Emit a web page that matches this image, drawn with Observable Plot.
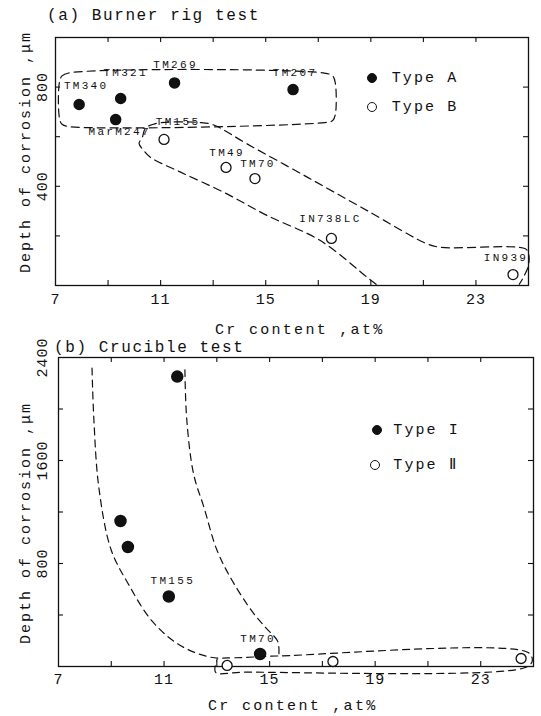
<!DOCTYPE html>
<html><head><meta charset="utf-8">
<script src="https://cdn.jsdelivr.net/npm/d3@7"></script>
<script src="https://cdn.jsdelivr.net/npm/@observablehq/plot@0.6"></script>
<style>
html,body{margin:0;padding:0;background:#fff;}
#root{position:relative;width:541px;height:716px;overflow:hidden;font-family:"Liberation Mono",monospace;color:#111;}
.t{position:absolute;white-space:nowrap;line-height:1;}
#root svg g[aria-label="text"] text{letter-spacing:2.3px;}
#root svg text[aria-label="ul"]{text-decoration:underline;}
#root svg g[aria-label="x-axis tick label"] text{letter-spacing:1px;}
#root svg g[aria-label="y-axis tick label"] text{letter-spacing:1px;}
.dot{position:absolute;width:10px;height:10px;border-radius:50%;box-sizing:border-box;border:1.3px solid #111;}
</style></head><body><div id="root"></div>
<script>
// ---------- data: (a) Burner rig test ----------
const burnerAlloys = ["TM340","TM321","MarM247","TM269","TM207","TM155","TM49","TM70","IN738LC","IN939"];
const burnerCr     = [7.90, 9.48, 9.29, 11.53, 16.04, 11.13, 13.49, 14.59, 17.50, 24.41];
const burnerDepth  = [730, 754, 669, 817, 790, 589, 476, 431, 190, 44];
const burnerType   = ["A","A","A","A","A","B","B","B","B","B"];
const burnerUnderlined = ["TM269","TM155"];
// dashed outlines (Cr, depth)
const regionA_cr    = [7.15, 7.25, 7.5, 17.2, 17.55, 17.65, 17.65, 17.55, 17.25, 7.5, 7.25, 7.15];
const regionA_depth = [820, 845, 857, 857, 845, 815, 690, 665, 657, 641, 650, 675];
const regionB_cr    = [19.2, 18.86, 17.08, 15.06, 13.40, 11.76, 10.61, 10.36, 10.18, 10.30, 10.42, 10.81, 12.52, 13.02, 14.29, 16.58, 18.86, 21.14, 21.65, 24.88, 25.0, 25.0, 24.8, 24.65];
const regionB_depth = [5, 33, 181, 282, 376, 457, 517, 544, 573, 596, 633, 653, 657, 647, 571, 437, 302, 168, 154, 148, 129, 81, 32, 5];

// ---------- data: (b) Crucible test ----------
const crucibleAlloys = ["", "", "", "TM155", "TM70", "", "", ""];
const crucibleCr     = [11.50, 9.35, 9.63, 11.18, 14.64, 13.39, 17.40, 24.53];
const crucibleDepth  = [2252, 1130, 928, 544, 97, 8, 39, 62];
const crucibleType   = ["I","I","I","I","I","II","II","II"];
const curveL_cr    = [8.27, 8.34, 8.53, 8.99, 9.64, 10.55, 11.60, 12.77, 13.68, 15.35, 24.80, 24.95, 24.63, 14.02, 12.95, 13.01];
const curveL_depth = [2318, 1920, 1388, 909, 643, 352, 165, 72, 68, 82, 108, 40, -12, -44, -44, 55];
const curveR_cr    = [11.79, 11.86, 12.12, 12.51, 13.01, 13.58, 14.33, 14.84, 15.29, 15.35, 15.35];
const curveR_depth = [2305, 1920, 1495, 1237, 901, 668, 430, 305, 202, 150, 85];

// ---------- axes ----------
const xTickMarks = [9, 11, 13, 15, 17, 19, 21, 23];
const xTickLabels = [7, 11, 15, 19, 23];
const yTickMarksA = [200, 400, 600, 800];
const yTickLabelsA = [400, 800];
const yTickMarksB = [400, 800, 1200, 1600, 2000];
const yTickLabelsB = [800, 1600, 2400];

// ---------- texts ----------
const titleA = "(a) Burner rig test";
const titleB = "(b) Crucible test";
const xTitle = "Cr content ,at%";
const yTitle = "Depth of corrosion ,\u03bcm";
const legendA = ["Type A", "Type B"];
const legendB = ["Type I", "Type \u2161"];

// label offsets (px) – style only
const offA = {TM340:[7,-19], TM321:[5,-26], MarM247:[4,12], TM269:[1,-18], TM207:[2,-17],
  TM155:[14,-18], TM49:[1,-15], TM70:[3,-15], IN738LC:[-1,-20], IN939:[-7,-17]};
const offB = {TM155:[4,-16], TM70:[-2,-16]};

const INK = "#111";
const fmt = d => `${d}`;
const burner = burnerAlloys.map((name, i) => ({name, cr: burnerCr[i], depth: burnerDepth[i], type: burnerType[i]}));
const crucible = crucibleAlloys.map((name, i) => ({name, cr: crucibleCr[i], depth: crucibleDepth[i], type: crucibleType[i]}));
const regionA = regionA_cr.map((c, i) => ({cr: c, depth: regionA_depth[i]}));
const regionB = regionB_cr.map((c, i) => ({cr: c, depth: regionB_depth[i]}));
const curveL = curveL_cr.map((c, i) => ({cr: c, depth: curveL_depth[i]}));
const curveR = curveR_cr.map((c, i) => ({cr: c, depth: curveR_depth[i]}));

function tickMarks(xs, ys, fw, fh) {
  const s = {stroke: INK, strokeWidth: 1.1};
  return [
    Plot.ruleX(xs, {x: d => d, insetTop: fh - 5, ...s}),
    Plot.ruleX(xs, {x: d => d, insetBottom: fh - 5, ...s}),
    Plot.ruleY(ys, {y: d => d, insetRight: fw - 5, ...s}),
    Plot.ruleY(ys, {y: d => d, insetLeft: fw - 5, ...s})
  ];
}
function labelMarks(data, off, underlined) {
  const marks = [];
  for (const d of data) {
    if (!d.name) continue;
    const o = off[d.name] || [0, -15];
    marks.push(Plot.text([d], {x: "cr", y: "depth", text: "name", dx: o[0], dy: o[1], fontSize: 11, fill: INK,
      ariaLabel: underlined.includes(d.name) ? "ul" : undefined}));
  }
  return marks;
}

// ---------- chart A ----------
const A = {w: 541, h: 320, mt: 37, mb: 35, ml: 55, mr: 13};
const chartA = Plot.plot({
  width: A.w, height: A.h, marginTop: A.mt, marginBottom: A.mb, marginLeft: A.ml, marginRight: A.mr,
  x: {domain: [7, 25]}, y: {domain: [0, 1000]},
  style: {fontFamily: "Liberation Mono, monospace", color: INK, background: "transparent"},
  marks: [
    Plot.frame({stroke: INK, strokeWidth: 1.3}),
    ...tickMarks(xTickMarks, yTickMarksA, A.w - A.ml - A.mr, A.h - A.mt - A.mb),
    Plot.axisX({ticks: xTickLabels, tickSize: 0, tickPadding: 8, fontSize: 15, label: null, tickFormat: fmt}),
    Plot.axisY({ticks: yTickLabelsA, tickSize: 0, tickRotate: -90, tickPadding: 9, fontSize: 15, label: null, tickFormat: fmt}),
    Plot.line(regionA, {x: "cr", y: "depth", curve: "catmull-rom-closed", stroke: INK, strokeWidth: 1.2, strokeDasharray: "8,5"}),
    Plot.line(regionB, {x: "cr", y: "depth", curve: "catmull-rom", stroke: INK, strokeWidth: 1.2, strokeDasharray: "8,5"}),
    Plot.dot(burner, {filter: d => d.type === "A", x: "cr", y: "depth", r: 5, fill: INK, stroke: INK}),
    Plot.dot(burner, {filter: d => d.type === "B", x: "cr", y: "depth", r: 5, fill: "white", stroke: INK, strokeWidth: 1.3}),
    ...labelMarks(burner, offA, burnerUnderlined)
  ]
});

// ---------- chart B ----------
const B = {w: 541, h: 396, mt: 37, mb: 50, ml: 58, mr: 8, top: 320};
const chartB = Plot.plot({
  width: B.w, height: B.h, marginTop: B.mt, marginBottom: B.mb, marginLeft: B.ml, marginRight: B.mr,
  x: {domain: [7, 25]}, y: {domain: [0, 2400]},
  style: {fontFamily: "Liberation Mono, monospace", color: INK, background: "transparent"},
  marks: [
    Plot.frame({stroke: INK, strokeWidth: 1.3}),
    ...tickMarks(xTickMarks, yTickMarksB, B.w - B.ml - B.mr, B.h - B.mt - B.mb),
    Plot.axisX({ticks: xTickLabels, tickSize: 0, tickPadding: 7, fontSize: 15, label: null, tickFormat: fmt}),
    Plot.axisY({ticks: yTickLabelsB, tickSize: 0, tickRotate: -90, tickPadding: 12, fontSize: 15, label: null, tickFormat: fmt}),
    Plot.line(curveL, {x: "cr", y: "depth", curve: "catmull-rom", stroke: INK, strokeWidth: 1.2, strokeDasharray: "7,5"}),
    Plot.line(curveR, {x: "cr", y: "depth", curve: "catmull-rom", stroke: INK, strokeWidth: 1.2, strokeDasharray: "7,5"}),
    Plot.dot(crucible, {filter: d => d.type === "I", x: "cr", y: "depth", r: 5.5, fill: INK, stroke: INK}),
    Plot.dot(crucible, {filter: d => d.type === "II", x: "cr", y: "depth", r: 5, fill: "white", stroke: INK, strokeWidth: 1.3}),
    ...labelMarks(crucible, offB, [])
  ]
});

const root = document.getElementById("root");
chartA.style.position = "absolute"; chartA.style.left = "0px"; chartA.style.top = "0px";
chartB.style.position = "absolute"; chartB.style.left = "0px"; chartB.style.top = B.top + "px";
root.appendChild(chartA); root.appendChild(chartB);

function addText(str, left, cy, size, spacing, rotate) {
  const el = document.createElement("div");
  el.className = "t";
  el.textContent = str;
  el.style.fontSize = size + "px";
  el.style.letterSpacing = spacing + "px";
  el.style.left = left + "px";
  el.style.top = cy + "px";
  el.style.transform = rotate ? "translate(-50%,-50%) rotate(-90deg)" : "translateY(-50%)";
  root.appendChild(el);
}
function addDot(cx, cy, filled) {
  const el = document.createElement("div");
  el.className = "dot";
  el.style.left = (cx - 5) + "px"; el.style.top = (cy - 5) + "px";
  el.style.background = filled ? INK : "#fff";
  root.appendChild(el);
}
// titles & axis titles
addText(titleA, 47, 16, 16, 1.6);
addText(titleB, 54, 348, 16, 1.6);
addText(xTitle, 215, 330, 15, 2.3);
addText(xTitle, 208, 706, 15, 2.3);
addText(yTitle, 26, 152, 15, 2, true);
addText(yTitle, 26, 523, 15, 2, true);
// legends
addDot(371.7, 78.3, true);  addText(legendA[0], 391.7, 78.3, 15, 2.1);
addDot(371.7, 106.7, false); addText(legendA[1], 391.7, 106.7, 15, 2.1);
addDot(376.7, 430, true);   addText(legendB[0], 393.3, 430, 15, 2.1);
addDot(375, 465, false);    addText(legendB[1], 393.3, 465, 15, 2.1);
</script></body></html>
